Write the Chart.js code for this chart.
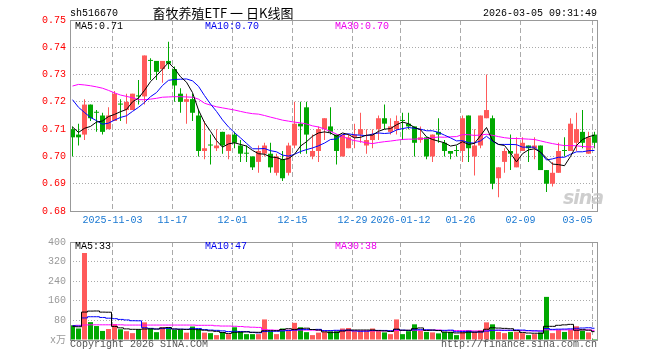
<!DOCTYPE html>
<html><head><meta charset="utf-8">
<script src="https://cdn.jsdelivr.net/npm/chart.js@4.4.1/dist/chart.umd.min.js"></script>
<style>
html,body{margin:0;padding:0;background:#fff;}
#wrap{position:relative;width:660px;height:360px;overflow:hidden;background:#fff;}
canvas{position:absolute;left:0;}
.t{position:absolute;font-family:"Liberation Mono","DejaVu Sans Mono","Noto Sans CJK SC",monospace;font-size:10px;line-height:10px;white-space:nowrap;}
#title{font-family:"Noto Sans CJK SC",sans-serif;font-size:13px;line-height:13px;left:123px;width:200px;text-align:center;top:6px;color:#000;}
#sina{position:absolute;left:563px;top:186px;font-family:"DejaVu Sans",sans-serif;font-style:italic;font-weight:bold;font-size:19px;color:rgba(190,190,190,0.75);letter-spacing:-1px;}
</style></head><body>
<div id="wrap">
<canvas id="pc" width="660" height="232" style="top:0"></canvas>
<canvas id="vc" width="660" height="128" style="top:232px"></canvas>
<div class="t" style="left:70px;top:9px;color:#000">sh516670</div>
<div class="t" id="title">畜牧养殖ETF 一 日K线图</div>
<div class="t" style="right:63px;top:9px;color:#000">2026-03-05 09:31:49</div>
<div class="t" style="left:75px;top:22px;color:#000">MA5:0.71</div>
<div class="t" style="left:205px;top:22px;color:#0000ee">MA10:0.70</div>
<div class="t" style="left:335px;top:22px;color:#ee00ee">MA30:0.70</div>
<div class="t" style="left:75px;top:242px;color:#000">MA5:33</div>
<div class="t" style="left:205px;top:242px;color:#0000ee">MA10:47</div>
<div class="t" style="left:335px;top:242px;color:#ee00ee">MA30:38</div>
<div class="t" style="left:70px;top:340px;color:#555">Copyright 2026 SINA.COM</div>
<div class="t" style="right:63px;top:340px;color:#555">http://finance.sina.com.cn</div>
<div id="sina">sina</div>
</div>
<script>
// ---- data ----
const dates = [
'2025-10-23','2025-10-24','2025-10-27','2025-10-28','2025-10-29','2025-10-30','2025-10-31',
'2025-11-03','2025-11-04','2025-11-05','2025-11-06','2025-11-07','2025-11-10','2025-11-11','2025-11-12','2025-11-13','2025-11-14',
'2025-11-17','2025-11-18','2025-11-19','2025-11-20','2025-11-21','2025-11-24','2025-11-25','2025-11-26','2025-11-27','2025-11-28',
'2025-12-01','2025-12-02','2025-12-03','2025-12-04','2025-12-05','2025-12-08','2025-12-09','2025-12-10','2025-12-11','2025-12-12',
'2025-12-15','2025-12-16','2025-12-17','2025-12-18','2025-12-19','2025-12-22','2025-12-23','2025-12-24','2025-12-25','2025-12-26',
'2025-12-29','2025-12-30','2025-12-31','2026-01-05','2026-01-06','2026-01-07','2026-01-08','2026-01-09',
'2026-01-12','2026-01-13','2026-01-14','2026-01-15','2026-01-16','2026-01-19','2026-01-20','2026-01-21','2026-01-22','2026-01-23',
'2026-01-26','2026-01-27','2026-01-28','2026-01-29','2026-01-30','2026-02-02','2026-02-03','2026-02-04','2026-02-05','2026-02-06',
'2026-02-09','2026-02-10','2026-02-11','2026-02-12','2026-02-13','2026-02-24','2026-02-25','2026-02-26','2026-02-27',
'2026-03-02','2026-03-03','2026-03-04','2026-03-05'];

const open = [
0.710,0.708,0.708,0.719,0.716,0.715,0.710,0.713,0.719,0.717,
0.717,0.722,0.722,0.735,0.735,0.732,0.735,0.732,0.723,0.720,
0.721,0.715,0.702,0.704,0.703,0.709,0.702,0.708,0.704,0.701,
0.700,0.698,0.701,0.701,0.694,0.699,0.694,0.704,0.712,0.718,
0.700,0.702,0.710,0.711,0.708,0.700,0.703,0.707,0.708,0.704,
0.706,0.710,0.714,0.709,0.710,0.713,0.712,0.711,0.706,0.707,
0.700,0.709,0.705,0.702,0.702,0.702,0.715,0.700,0.704,0.714,
0.714,0.692,0.698,0.702,0.696,0.702,0.704,0.703,0.704,0.695,
0.690,0.694,0.702,0.702,0.705,0.709,0.701,0.708];
const high = [
0.711,0.712,0.721,0.719,0.717,0.716,0.718,0.724,0.721,0.723,
0.723,0.728,0.737,0.736,0.735,0.735,0.742,0.733,0.725,0.723,
0.723,0.717,0.713,0.708,0.710,0.709,0.708,0.709,0.706,0.704,
0.700,0.704,0.705,0.705,0.701,0.702,0.705,0.720,0.720,0.720,
0.708,0.711,0.714,0.718,0.708,0.708,0.708,0.712,0.716,0.710,
0.710,0.715,0.719,0.714,0.715,0.716,0.716,0.711,0.711,0.707,
0.708,0.714,0.706,0.702,0.704,0.715,0.715,0.710,0.715,0.730,
0.715,0.696,0.703,0.708,0.707,0.707,0.704,0.707,0.704,0.695,
0.698,0.705,0.707,0.714,0.716,0.717,0.709,0.709];
const low = [
0.700,0.704,0.706,0.713,0.709,0.708,0.710,0.713,0.713,0.712,
0.717,0.719,0.719,0.728,0.728,0.727,0.732,0.720,0.716,0.712,
0.713,0.700,0.699,0.697,0.702,0.701,0.699,0.703,0.698,0.698,
0.695,0.694,0.700,0.694,0.693,0.691,0.693,0.703,0.701,0.701,
0.699,0.698,0.706,0.708,0.697,0.700,0.703,0.703,0.705,0.701,
0.703,0.706,0.710,0.708,0.708,0.706,0.710,0.700,0.705,0.699,
0.698,0.705,0.700,0.699,0.700,0.698,0.698,0.693,0.703,0.714,
0.688,0.685,0.694,0.695,0.696,0.702,0.698,0.699,0.695,0.687,
0.689,0.694,0.700,0.702,0.702,0.703,0.701,0.703];
const close = [
0.707,0.707,0.719,0.714,0.716,0.709,0.715,0.723,0.719,0.720,
0.723,0.722,0.737,0.735,0.731,0.735,0.734,0.726,0.720,0.721,
0.716,0.702,0.703,0.704,0.704,0.704,0.708,0.705,0.701,0.701,
0.696,0.702,0.704,0.696,0.700,0.692,0.704,0.712,0.711,0.708,
0.702,0.710,0.714,0.709,0.702,0.708,0.707,0.708,0.710,0.706,
0.708,0.714,0.712,0.711,0.713,0.713,0.711,0.705,0.707,0.700,
0.708,0.708,0.702,0.701,0.702,0.714,0.703,0.704,0.715,0.717,
0.690,0.696,0.702,0.701,0.701,0.705,0.703,0.704,0.695,0.690,
0.694,0.702,0.702,0.712,0.710,0.705,0.707,0.705];
const volume = [
60,47,355,73,57,37,45,65,44,36,
28,44,72,47,32,52,52,41,41,30,
55,44,30,28,20,32,24,52,33,24,
24,24,84,35,24,47,40,70,52,32,
20,30,33,36,36,47,49,36,36,36,
47,36,31,24,84,24,36,64,38,33,
31,27,33,33,20,33,40,34,40,72,
64,33,28,33,33,28,20,24,31,176,
28,41,33,41,56,39,31,4];

// moving-average values at the left edge (they depend on days before the first bar)
const ma5Head  = [0.7108,0.7088,0.7103,0.7110];
const ma10Head = [0.7208,0.7180,0.7161,0.7143,0.7131,0.7118,0.7122,0.7133,0.7143];
const ma30Head = [0.7258,0.7264,0.7262,0.7259,0.7255,0.7250,0.7242,0.7233,0.7225,0.7220,
  0.7215,0.7208,0.7208,0.7210,0.7213,0.7217,0.7218,0.7219,0.7219,0.7218,
  0.7217,0.7210,0.7195,0.7188,0.7182,0.7178,0.7174,0.7170,0.7165];
const volMa5Head  = [56,54,114,118];
const volMa10Head = [58,57,90,95,95,92,89,87,84];
const volMa30Head = [58,60,61,62,62,62,62,62,62,61,61,61,61,61,61,61,61,61,61,61,61,60,60,60,58,57,57,56,55];

const tickDates  = ['2025-11-03','2025-11-17','2025-12-01','2025-12-15','2025-12-29','2026-01-12','2026-01-26','2026-02-09','2026-03-05'];
const tickLabels = ['2025-11-03','11-17','12-01','12-15','12-29','2026-01-12','01-26','02-09','03-05'];
const priceTicks  = [0.68,0.69,0.70,0.71,0.72,0.73,0.74,0.75];
const volumeTicks = [0,80,160,240,320,400];

// ---- build ----
function movingAverage(values, n, head){
  return values.map((v,i)=> i < head.length ? head[i]
    : values.slice(i-n+1,i+1).reduce((a,b)=>a+b,0)/n);
}
const xy = arr => arr.map((v,i)=>({x:i,y:v}));
const UP = '#ff5a5a', DN = '#00a800';
const candleColors = close.map((c,i)=> c > open[i] ? UP : DN);
const MONO = '"Liberation Mono","DejaVu Sans Mono","Noto Sans CJK SC",monospace';
const N = dates.length;
const X_MIN = -2.5/6, X_MAX = N - 2.5/6;
const GRID_SHIFT = -1/3;

const framePlugin = {
  id:'frame',
  afterDraw(chart){
    const {ctx, chartArea:a} = chart;
    ctx.save();
    ctx.strokeStyle = '#999';
    ctx.lineWidth = 1;
    ctx.setLineDash([]);
    ctx.strokeRect(Math.round(a.left)+0.5, Math.round(a.top)+0.5,
      Math.round(a.right-a.left)-1, Math.round(a.bottom-a.top));
    ctx.restore();
  }
};

// last date label is kept inside the frame (ends at its grid line), like the original
const tickText = (i) => i === tickLabels.length - 1
  ? tickLabels[i] + ' '.repeat(tickLabels[i].length) : tickLabels[i];

function xAxis(showLabels, h){
  return {
    type:'linear', min:X_MIN, max:X_MAX, bounds:'data', offset:false,
    afterBuildTicks: s => { s.ticks = tickDates.map(d => ({value: dates.indexOf(d) + GRID_SHIFT})); },
    ticks:{display:showLabels, autoSkip:false, maxRotation:0, minRotation:0, padding:3,
      color:'#1a78d2', font:{family:MONO,size:10}, callback:(v,i)=>tickText(i)},
    grid:{color:'#aaa', lineWidth:1, drawTicks:false, offset:false},
    border:{display:false, dash:[5,3]},
    afterFit: s => { s.height = h; }
  };
}
function yAxis(min,max,tickVals,color,fmt){
  return {
    type:'linear', min, max,
    afterBuildTicks: s => { s.ticks = tickVals.map(v=>({value:v})); },
    ticks:{color, font:{family:MONO,size:10}, padding:4, callback:fmt},
    grid:{color:'#aaa', lineWidth:1, drawTicks:false},
    border:{display:false, dash:[1,2]},
    afterFit: s => { s.width = 70; }
  };
}
const common = {
  responsive:false, animation:false, devicePixelRatio:1, events:[],
  plugins:{legend:{display:false}, tooltip:{enabled:false}}
};
const lineDs = (data,color,extra) => Object.assign({type:'line', data:xy(data), borderColor:color,
  borderWidth:1, pointRadius:0, tension:0, fill:false, order:0}, extra||{});

Chart.defaults.font.family = MONO;

new Chart(document.getElementById('pc'), {
  type:'bar',
  data:{datasets:[
    lineDs(movingAverage(close,5,ma5Head),'#000'),
    lineDs(movingAverage(close,10,ma10Head),'#0000ff'),
    lineDs(movingAverage(close,30,ma30Head),'#ff00ff'),
    {label:'body', data: close.map((c,i)=>({x:i, y:[open[i], c]})), backgroundColor:candleColors,
      barThickness:5, grouped:false, minBarLength:1, inflateAmount:0, borderWidth:0, order:1},
    {label:'wick', data: close.map((c,i)=>({x:i, y:[low[i], high[i]]})), backgroundColor:candleColors,
      barThickness:1, grouped:false, inflateAmount:0, borderWidth:0, order:2}
  ]},
  options:Object.assign({}, common, {
    layout:{padding:{left:0,right:62,top:20,bottom:0}},
    scales:{
      x: xAxis(true, 21),
      y: yAxis(0.68,0.75,priceTicks,'#ff0000', v=>Number(v).toFixed(2))
    }
  }),
  plugins:[framePlugin]
});

new Chart(document.getElementById('vc'), {
  type:'bar',
  data:{datasets:[
    lineDs(movingAverage(volume,5,volMa5Head),'#000',{stepped:'middle'}),
    lineDs(movingAverage(volume,10,volMa10Head),'#0000ff',{stepped:'middle'}),
    lineDs(movingAverage(volume,30,volMa30Head),'#ff00ff',{stepped:'middle'}),
    {label:'volume', data: xy(volume), backgroundColor:candleColors,
      barThickness:5, grouped:false, inflateAmount:0, borderWidth:0, order:1}
  ]},
  options:Object.assign({}, common, {
    layout:{padding:{left:0,right:62,top:8,bottom:0}},
    scales:{
      x: xAxis(false, 20),
      y: yAxis(0,400,volumeTicks,'#999', v=> v===0 ? 'x万' : String(v))
    }
  }),
  plugins:[framePlugin]
});
</script>
</body></html>
